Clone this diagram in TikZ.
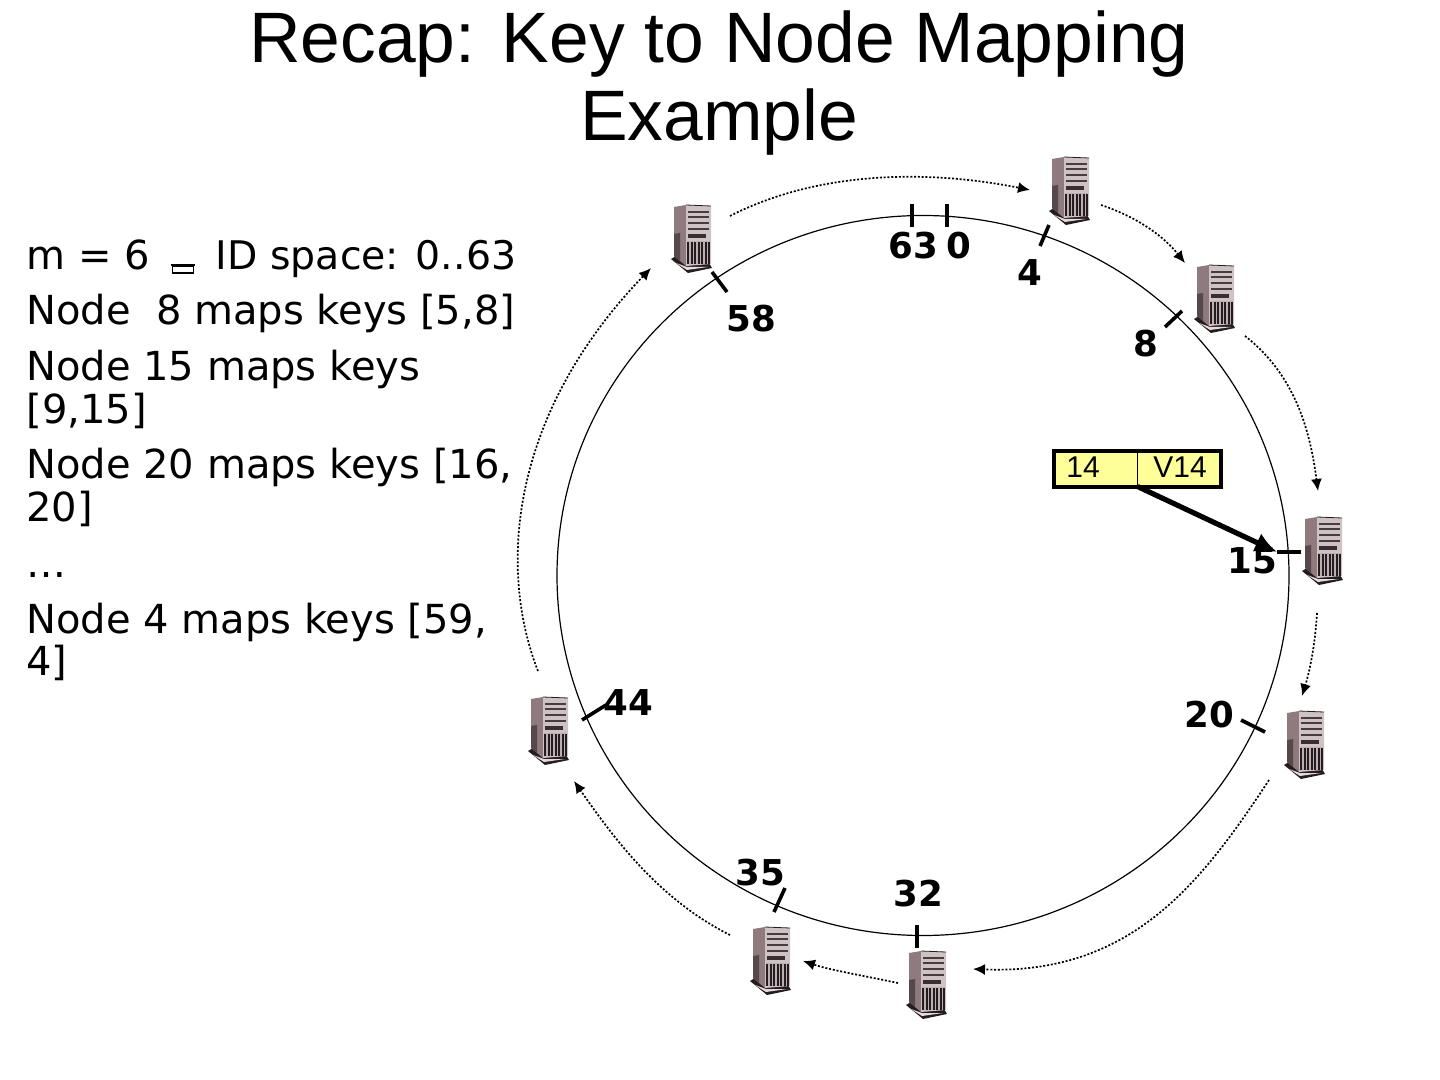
\documentclass[tikz,border=0pt]{standalone}
\usepackage{fontspec}
\setmainfont{DejaVu Sans}
\newfontfamily\titlefont{Liberation Sans}
\usetikzlibrary{arrows.meta}
\definecolor{srvfront}{HTML}{CFC2C4}
\definecolor{srvside}{HTML}{8F7A7E}
\definecolor{srvbase}{HTML}{241C1E}
\definecolor{kvyellow}{HTML}{FFFF99}
\tikzset{
  ringarrow/.style={line width=0.85pt,dash pattern=on 1pt off 0.9pt,-{Latex[length=6pt,width=5.5pt]}},
  ringtick/.style={line width=1.8pt},
  idlabel/.style={font=\fontsize{17.8}{20}\selectfont\bfseries,inner sep=0pt},
  bodytext/.style={font=\fontsize{20}{21}\selectfont,anchor=base west,align=left,inner sep=0pt},
  kvtext/.style={font=\titlefont\fontsize{15}{17}\selectfont,inner sep=0pt},
  pics/server/.style={code={
    \fill[srvbase] (-20,20)--(-15,17)--(18,24)--(21,29)--(-3,34)--cycle;
    \fill[srvfront!60!white] (-15,24)--(-4,31)--(17,28)--(-4,28)--cycle;
    \fill[srvside] (-17,-32)--(-5,-34)--(-5,27)--(-17,17)--cycle;
    \fill[srvside!60!black] (-17,-5)--(-11,-6)--(-11,22)--(-17,17)--cycle;
    \fill[srvfront] (-5,-34)--(20,-33)--(20,25)--(-5,27)--cycle;
    \draw[srvbase,line width=0.4pt] (-5,-34)--(20,-33);
    \foreach \rowy in {-27,-22,-16,-10}
      \draw[srvside!50!black,line width=0.6pt] (-3,\rowy)--(18,\rowy);
    \fill[srvbase!80!srvside] (-3,-5) rectangle (15,-1);
    \fill[srvside!60!white] (-4,2) rectangle (19,25);
    \foreach \colx in {-3,0.5,...,18}
      \draw[srvbase,line width=1pt] (\colx,3)--(\colx,25);
  }}
}
\begin{document}
\begin{tikzpicture}[x=0.5pt,y=-0.5pt]
  \useasboundingbox (0,0) rectangle (1440,1080);
  % title
  \node[font=\titlefont\fontsize{35.7}{39}\selectfont,align=center,inner sep=0pt] (title) at (719,83) {Recap: Key to Node Mapping\\Example};
  % left column
  \node[bodytext] (txtm) at (26,270) {m = 6};
  \node[draw,line width=0.8pt,minimum width=10.5pt,minimum height=3.6pt,inner sep=0pt] (txtbox) at (183,269.5) {};
  \draw[line width=1.3pt] ([xshift=-0.5pt]txtbox.north west)--([xshift=0.5pt]txtbox.north east);
  \node[bodytext,font=\fontsize{19.7}{21}\selectfont] (txtid) at (215.5,270) {ID space: 0..63};
  \node[bodytext] (txt8) at (26,325) {Node\ \ 8 maps keys [5,8]};
  \node[bodytext] (txt15) at (26,423) {Node 15 maps keys\\{[9,15]}};
  \node[bodytext] (txt20) at (26,521) {Node 20 maps keys [16,\\20]};
  \node[bodytext] (txtdots) at (26,577) {\dots};
  \node[bodytext] (txt4) at (26,675) {Node 4 maps keys [59,\\4]};
  % ring
  \draw[line width=0.6pt] (923,575.5) ellipse [x radius=366,y radius=360];
  % servers
  \foreach \n/\x/\y in {58/691/239,4/1069/191,8/1214/299,15/1322/551,20/1304/745,32/926/985,35/770/961,44/548/731} {
    \pic (srv\n) at (\x,\y) {server};
  }
  % ticks and ids
  \foreach \n/\xa/\ya/\xb/\yb/\lx/\ly in {63/912/204/912/227/913/246,0/947/204/947/227/959/246,4/1049/225/1040/246/1030/273,8/1182/311/1165/327/1146/344,15/1277/552/1301/552/1252/561,20/1241/720/1265/732/1209/715,32/917/925/917/948/918.5/894,35/785/888/774/912/760/873,44/606/705/582/720/628/703,58/712/272/727/292/751/319} {
    \coordinate (ta\n) at (\xa,\ya);
    \coordinate (tb\n) at (\xb,\yb);
    \draw[ringtick] (ta\n)--(tb\n);
    \node[idlabel] (id\n) at (\lx,\ly) {\n};
  }
  % successor arrows
  \coordinate (a58) at (730,216);
  \coordinate (b4) at (1030,190);
  \coordinate (a4) at (1101,205);
  \coordinate (b8) at (1185,263);
  \coordinate (a8) at (1245,336);
  \coordinate (b15) at (1318,491);
  \coordinate (a15) at (1317,613);
  \coordinate (b20) at (1302,696);
  \coordinate (a20) at (1269,780);
  \coordinate (b32) at (973,969);
  \coordinate (a32) at (898,983);
  \coordinate (b35) at (803,961);
  \coordinate (a35) at (730,935);
  \coordinate (b44) at (574,781);
  \coordinate (a44) at (538,671);
  \coordinate (b58) at (651,268);
  \draw[ringarrow] (a58) .. controls (820,170) and (930,170) .. (b4);
  \draw[ringarrow] (a4) .. controls (1140,218) and (1165,238) .. (b8);
  \draw[ringarrow] (a8) .. controls (1295,375) and (1310,430) .. (b15);
  \draw[ringarrow] (a15) .. controls (1315,645) and (1310,670) .. (b20);
  \draw[ringarrow] (a20) .. controls (1200,885) and (1130,975) .. (b32);
  \draw[ringarrow] (a32) .. controls (860,975) and (830,970) .. (b35);
  \draw[ringarrow] (a35) .. controls (660,900) and (615,840) .. (b44);
  \draw[ringarrow] (a44) .. controls (500,575) and (505,420) .. (b58);
  % key/value box
  \node[draw,line width=2pt,fill=kvyellow,minimum width=83.5pt,minimum height=17.5pt,inner sep=0pt,outer sep=0pt] (kvbox) at (1137.5,469) {};
  \draw[line width=0.5pt] (kvbox.north)--(kvbox.south);
  \node[kvtext] (kvkey) at (1083,467) {14};
  \node[kvtext] (kvval) at (1180,467) {V14};
  \draw[line width=2.6pt,-{Latex[length=11pt,width=10pt]}] (kvbox.south)--(ta15);
\end{tikzpicture}
\end{document}
